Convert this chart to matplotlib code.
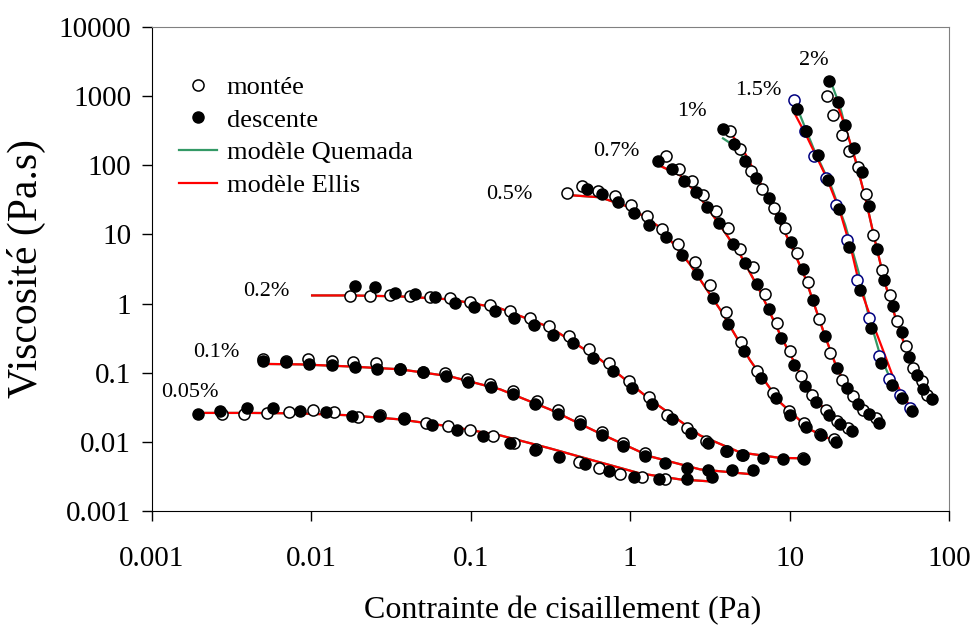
import numpy as np
import matplotlib
matplotlib.use("Agg")
import matplotlib.pyplot as plt
from matplotlib.lines import Line2D
from matplotlib.ticker import FixedLocator, FixedFormatter, NullLocator

plt.rcParams['font.family'] = ['Liberation Serif', 'DejaVu Serif']

#---------------------------------------------------------------- data
# 0.05 %
x_005_up = [0.00275, 0.00378, 0.00527, 0.00724, 0.0102, 0.0139, 0.0196, 0.0270, 0.0381, 0.0524,
            0.0720, 0.0989, 0.138, 0.187, 0.257, 0.478, 0.638, 0.864, 1.19, 1.65]
y_005_up = [0.0249, 0.0249, 0.0258, 0.0267, 0.0285, 0.0267, 0.0226, 0.0242, 0.0218, 0.0185,
            0.0167, 0.0147, 0.0120, 0.00951, 0.00791, 0.00505, 0.00413, 0.00338, 0.00306, 0.00293]
x_005_down = [0.00195, 0.00267, 0.00394, 0.00574, 0.00848, 0.0124, 0.0180, 0.0266, 0.0381, 0.0571,
              0.0819, 0.119, 0.176, 0.251, 0.357, 0.520, 0.736, 1.05, 1.52, 2.27, 3.26]
y_005_down = [0.0249, 0.0275, 0.0305, 0.0305, 0.0275, 0.0267, 0.0233, 0.0233, 0.0211, 0.0176,
              0.0147, 0.0120, 0.00951, 0.00766, 0.00596, 0.00472, 0.00374, 0.00306, 0.00293, 0.00293, 0.00306]
xc_005 = [0.00195, 0.00412, 0.00848, 0.0175, 0.0360, 0.0741, 0.153, 0.314, 0.647, 1.15, 2.06, 3.17]
yc_005 = [0.0262, 0.0262, 0.0258, 0.0242, 0.0211, 0.0167, 0.0124, 0.00804, 0.00505, 0.00350, 0.00286, 0.00268]

# 0.1 %
x_01_up = [0.00497, 0.00693, 0.00952, 0.0135, 0.0182, 0.0254, 0.0360, 0.0502, 0.0689, 0.0947,
           0.132, 0.184, 0.260, 0.353, 0.485, 0.666, 0.902, 1.24]
y_01_up = [0.160, 0.149, 0.160, 0.149, 0.142, 0.138, 0.115, 0.104, 0.0986, 0.0818,
           0.0684, 0.0537, 0.0385, 0.0285, 0.0198, 0.0137, 0.00951, 0.00681]
x_01_down = [0.00497, 0.00693, 0.00966, 0.0135, 0.0188, 0.0258, 0.0360, 0.0502, 0.0694, 0.0961, 0.133,
             0.183, 0.253, 0.351, 0.485, 0.663, 0.906, 1.24, 1.65, 2.27, 3.08, 4.35, 5.90]
y_01_down = [0.149, 0.142, 0.133, 0.128, 0.119, 0.114, 0.112, 0.102, 0.0900, 0.0736, 0.0614,
             0.0485, 0.0354, 0.0255, 0.0181, 0.0124, 0.00859, 0.00631, 0.00499, 0.00413, 0.00395, 0.00386, 0.00386]
xc_01 = [0.00490, 0.00848, 0.0175, 0.0360, 0.0741, 0.153, 0.314, 0.647, 1.33, 2.74, 5.90]
yc_01 = [0.134, 0.132, 0.123, 0.112, 0.0885, 0.0574, 0.0294, 0.0132, 0.00617, 0.00400, 0.00338]

# 0.2 %
x_02_up = [0.0175, 0.0233, 0.0311, 0.0416, 0.0555, 0.0741, 0.0989, 0.132, 0.175, 0.234, 0.310,
           0.416, 0.554, 0.740, 0.988, 1.32, 1.71, 2.28, 2.99, 3.99, 5.03, 12.2]
y_02_up = [1.27, 1.27, 1.34, 1.29, 1.25, 1.20, 1.04, 0.951, 0.789, 0.617, 0.468,
           0.335, 0.222, 0.138, 0.0766, 0.0440, 0.0247, 0.0158, 0.0104, 0.00745, 0.00647, 0.00577]
x_02_down = [0.0188, 0.0251, 0.0335, 0.0447, 0.0596, 0.0791, 0.105, 0.141, 0.187, 0.248, 0.330, 0.440,
             0.582, 0.784, 1.02, 1.37, 1.82, 2.40, 3.09, 4.03, 5.13, 6.81, 9.10, 12.3]
y_02_down = [1.77, 1.71, 1.43, 1.37, 1.23, 1.02, 0.881, 0.771, 0.611, 0.489, 0.355, 0.268,
             0.163, 0.107, 0.0598, 0.0352, 0.0216, 0.0134, 0.00959, 0.00728, 0.00637, 0.00582, 0.00570, 0.00567]
xc_02 = [0.0101, 0.0175, 0.0360, 0.0741, 0.153, 0.314, 0.647, 1.33, 2.74, 4.89, 8.71, 12.5]
yc_02 = [1.31, 1.31, 1.27, 1.15, 0.851, 0.452, 0.156, 0.0411, 0.0124, 0.00703, 0.00586, 0.00577]

# 0.5 %
x_05_up = [0.400, 0.497, 0.631, 0.803, 1.01, 1.27, 1.58, 1.98, 2.55, 3.17, 3.97, 4.97, 6.22,
           7.88, 9.90, 12.3, 15.4, 19.0]
y_05_up = [39.6, 49.5, 41.9, 36.1, 26.3, 18.2, 12.1, 7.24, 3.98, 1.83, 0.745, 0.281, 0.107,
           0.0507, 0.0282, 0.0185, 0.0132, 0.0109]
x_05_down = [0.534, 0.666, 0.836, 1.05, 1.32, 1.68, 2.11, 2.62, 3.32, 4.13, 5.18, 6.59, 8.17,
             10.1, 12.7, 15.8, 19.6]
y_05_down = [45.8, 37.9, 29.7, 20.1, 13.5, 9.06, 4.98, 2.67, 1.22, 0.505, 0.207, 0.0836, 0.0425,
             0.0242, 0.0162, 0.0124, 0.00998]
xc_05 = [0.396, 0.647, 1.00, 1.54, 2.37, 3.66, 5.65, 8.71, 13.4, 19.9]
yc_05 = [37.3, 34.4, 24.6, 12.6, 3.69, 0.824, 0.151, 0.0372, 0.0151, 0.00982]

# 0.7 %
x_07_up = [1.68, 2.03, 2.43, 2.88, 3.46, 4.13, 4.89, 5.92, 7.02, 8.31, 9.99, 11.8, 13.8, 16.8, 19.8, 23.3]
y_07_up = [137, 89.3, 58.5, 37.1, 21.5, 12.3, 6.22, 3.33, 1.36, 0.525, 0.207, 0.0885, 0.0481,
           0.0292, 0.0200, 0.0160]
x_07_down = [1.50, 1.82, 2.19, 2.57, 3.05, 3.63, 4.40, 5.25, 6.25, 7.43, 8.84, 10.6, 12.5, 14.7,
             17.6, 20.7, 24.7]
y_07_down = [117, 87.1, 59.8, 41.2, 24.6, 14.6, 7.24, 3.85, 1.91, 0.838, 0.313, 0.129, 0.0634,
             0.0376, 0.0244, 0.0184, 0.0145]
xc_07 = [1.52, 2.06, 2.74, 3.66, 4.89, 6.53, 8.71, 11.6, 15.5, 20.7, 25.0]
yc_07 = [99.6, 71.4, 34.4, 13.5, 5.14, 1.50, 0.358, 0.0977, 0.0348, 0.0191, 0.0137]

# 1 %
x_1_up = [4.21, 4.87, 5.71, 6.74, 7.96, 9.36, 11.1, 13.1, 15.3, 18.0, 21.4, 25.1, 29.0, 34.6]
y_1_up = [316, 174, 82.4, 45.3, 24.2, 12.2, 5.37, 2.02, 0.604, 0.192, 0.0793, 0.0454, 0.0292, 0.0223]
x_1_down = [3.80, 4.46, 5.28, 6.19, 7.40, 8.71, 10.2, 12.1, 14.1, 16.6, 19.7, 22.8, 26.8, 31.7, 36.3]
y_1_down = [333, 202, 117, 64.6, 33.2, 17.1, 7.85, 3.19, 1.13, 0.335, 0.117, 0.0607, 0.0357, 0.0249, 0.0187]
xc_1 = [4.23, 5.25, 6.53, 8.10, 10.1, 12.5, 14.4, 16.7, 19.3, 22.3, 27.7, 36.4]
yc_1 = [299, 149, 56.5, 20.8, 7.41, 2.39, 0.910, 0.335, 0.136, 0.0678, 0.0326, 0.0179]
xq_1 = [3.82, 4.55, 5.65, 8.10, 10.1, 12.5, 14.4, 16.7, 19.3, 22.3, 27.7, 36.4]
yq_1 = [245, 188, 93.1, 20.8, 7.41, 2.39, 0.910, 0.335, 0.136, 0.0678, 0.0326, 0.0179]

# 1.5 %
x_15_up = [10.6, 12.4, 14.3, 17.0, 19.6, 23.0, 26.5, 31.7, 36.6, 42.3, 49.3, 57.0]
y_15_up = [889, 316, 135, 65.3, 26.3, 8.39, 2.16, 0.617, 0.172, 0.0818, 0.0481, 0.0308]
x_15_down = [11.1, 12.7, 15.0, 17.4, 20.4, 23.7, 27.8, 32.3, 37.3, 43.7, 50.5, 58.4]
y_15_down = [647, 312, 139, 60.4, 23.6, 6.49, 1.59, 0.442, 0.138, 0.0655, 0.0430, 0.0282]
xc_15 = [10.8, 12.8, 17.1, 20.7, 24.5, 27.7, 33.5, 38.8, 44.8, 51.7, 57.0]
yc_15 = [550, 262, 65.3, 21.5, 5.69, 1.68, 0.494, 0.203, 0.0836, 0.0454, 0.0326]
xq_15 = [11.6, 14.1, 18.4, 22.3, 27.0, 31.2, 36.9, 41.7, 48.8, 57.0]
yq_15 = [539, 177, 46.8, 13.8, 2.92, 0.690, 0.182, 0.0935, 0.0537, 0.0326]

# 2 %
x_2_up = [17.1, 18.8, 21.4, 23.7, 26.8, 30.2, 33.5, 37.9, 42.7, 47.4, 53.8, 59.8, 67.5, 73.1]
y_2_up = [991, 532, 273, 163, 94.8, 37.9, 9.91, 3.09, 1.31, 0.565, 0.240, 0.117, 0.0748, 0.0481]
x_2_down = [17.7, 20.1, 22.3, 25.3, 28.4, 31.4, 35.5, 39.3, 44.4, 50.5, 56.2, 63.3, 69.1, 78.0]
y_2_down = [1673, 817, 381, 180, 79.6, 25.4, 6.22, 2.21, 0.910, 0.386, 0.166, 0.0914, 0.0587, 0.0421]
xc_2 = [19.3, 22.3, 25.8, 29.7, 34.4, 39.7, 45.9, 53.0, 61.2, 70.7, 78.3]
yc_2 = [927, 365, 122, 35.5, 7.93, 1.96, 0.652, 0.240, 0.0977, 0.0519, 0.0385]
xq_2 = [18.2, 20.7, 22.3, 25.8, 29.7, 34.4, 39.7, 45.9, 53.0, 61.2, 70.7, 78.3]
yq_2 = [1581, 711, 365, 122, 35.5, 7.93, 1.96, 0.652, 0.240, 0.0977, 0.0519, 0.0385]

conc_labels = ['0.05%', '0.1%', '0.2%', '0.5%', '0.7%', '1%', '1.5%', '2%']
x_ticks = [0.001, 0.01, 0.1, 1, 10, 100]
x_tick_labels = ['0.001', '0.01', '0.1', '1', '10', '100']
y_ticks = [0.001, 0.01, 0.1, 1, 10, 100, 1000, 10000]
y_tick_labels = ['0.001', '0.01', '0.1', '1', '10', '100', '1000', '10000']

#----------------------------------------------------------------
green = '#339966'
fig = plt.figure(figsize=(9.8, 6.35), dpi=100)
ax = fig.add_axes([0.1551, 0.1953, 0.8133, 0.7622])

models = [(xc_005, yc_005, xc_005, yc_005), (xc_01, yc_01, xc_01, yc_01),
          (xc_02, yc_02, xc_02, yc_02), (xc_05, yc_05, xc_05, yc_05),
          (xc_07, yc_07, xc_07, yc_07), (xc_1, yc_1, xq_1, yq_1),
          (xc_15, yc_15, xq_15, yq_15), (xc_2, yc_2, xq_2, yq_2)]
for xc, yc, xq, yq in models:
    ax.plot(xq, yq, color=green, lw=1.6, zorder=2)
    ax.plot(xc, yc, color='red', lw=1.6, zorder=2)

ups = [(x_005_up, y_005_up), (x_01_up, y_01_up), (x_02_up, y_02_up), (x_05_up, y_05_up),
       (x_07_up, y_07_up), (x_1_up, y_1_up), (x_15_up, y_15_up), (x_2_up, y_2_up)]
downs = [(x_005_down, y_005_down), (x_01_down, y_01_down), (x_02_down, y_02_down),
         (x_05_down, y_05_down), (x_07_down, y_07_down), (x_1_down, y_1_down),
         (x_15_down, y_15_down), (x_2_down, y_2_down)]
for i, (xu, yu) in enumerate(ups):
    edge = '#000080' if conc_labels[i] == '1.5%' else 'black'
    ax.plot(xu, yu, 'o', ms=8, mfc='white', mec=edge, mew=1.1, zorder=3)
for xd, yd in downs:
    ax.plot(xd, yd, 'o', ms=8, mfc='black', mec='black', zorder=4)

# concentration labels
label_pos = [(0.00173, 0.0511), (0.00255, 0.194), (0.00524, 1.50), (0.175, 37.9),
             (0.823, 159), (2.43, 592), (6.37, 1211), (14.1, 3236)]
for s, (lx, ly) in zip(conc_labels, label_pos):
    ax.text(lx, ly, s, ha='center', va='center', fontsize=16)

ax.set_xscale('log')
ax.set_yscale('log')
ax.set_xlim(0.001, 100)
ax.set_ylim(0.001, 10000)
ax.xaxis.set_major_locator(FixedLocator(x_ticks))
ax.xaxis.set_major_formatter(FixedFormatter(x_tick_labels))
ax.yaxis.set_major_locator(FixedLocator(y_ticks))
ax.yaxis.set_major_formatter(FixedFormatter(y_tick_labels))
ax.xaxis.set_minor_locator(NullLocator())
ax.yaxis.set_minor_locator(NullLocator())
ax.tick_params(axis='both', direction='out', length=7, width=1, labelsize=21)
ax.tick_params(axis='x', pad=18)
ax.tick_params(axis='y', pad=8)

for side in ['top', 'right']:
    ax.spines[side].set_color('#808080')
for side in ['left', 'bottom']:
    ax.spines[side].set_color('black')

ax.set_xlabel('Contrainte de cisaillement (Pa)', fontsize=23)
ax.set_ylabel('Viscosité (Pa.s)', fontsize=30)
ax.xaxis.label.set_va('center')
ax.yaxis.label.set_va('center')
ax.xaxis.set_label_coords(0.515, -0.205)
ax.yaxis.set_label_coords(-0.157, 0.5)

handles = [Line2D([], [], ls='none', marker='o', ms=8, mfc='white', mec='black', mew=1.1),
           Line2D([], [], ls='none', marker='o', ms=8, mfc='black', mec='black'),
           Line2D([], [], color=green, lw=1.6),
           Line2D([], [], color='red', lw=1.6)]
ax.legend(handles, ['montée', 'descente', 'modèle Quemada', 'modèle Ellis'],
          loc='upper left', bbox_to_anchor=(0.034, 0.90), frameon=False, fontsize=19,
          borderpad=0, borderaxespad=0, handlelength=1.45, handletextpad=0.35,
          labelspacing=0.35)

fig.savefig('out.png', dpi=100)
